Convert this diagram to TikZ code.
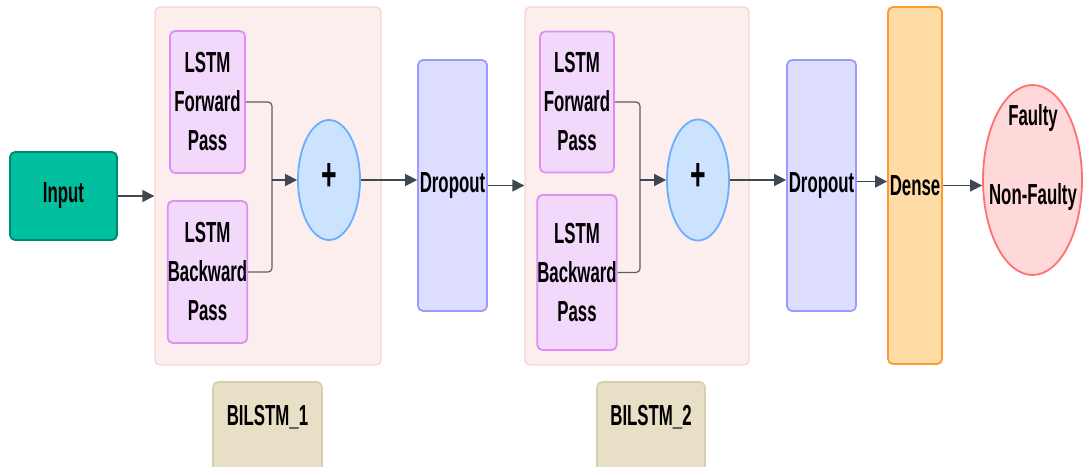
\documentclass[tikz,border=0pt]{standalone}
\usepackage{fontspec}
\setmainfont{Liberation Sans}[FakeStretch=0.58]
\usetikzlibrary{arrows.meta,shapes.geometric}
\definecolor{tealF}{HTML}{00BF9F}
\definecolor{tealD}{HTML}{00896F}
\definecolor{contF}{HTML}{FDEEEE}
\definecolor{contD}{HTML}{F9D3D3}
\definecolor{lstmF}{HTML}{F2D8FA}
\definecolor{lstmD}{HTML}{E28CF5}
\definecolor{plusF}{HTML}{CCE3FF}
\definecolor{plusD}{HTML}{6AAEFF}
\definecolor{dropF}{HTML}{DDDDFF}
\definecolor{dropD}{HTML}{9A9AFF}
\definecolor{denseF}{HTML}{FFDCA6}
\definecolor{denseD}{HTML}{FF9A33}
\definecolor{outF}{HTML}{FFD9D9}
\definecolor{outD}{HTML}{FF7070}
\definecolor{bilF}{HTML}{E8E0C6}
\definecolor{bilD}{HTML}{D8CEAE}
\definecolor{arrowgray}{HTML}{3F4750}
\definecolor{conngray}{HTML}{5A5F66}
\tikzset{
  txt/.style={font=\bfseries\fontsize{29}{39}\selectfont, align=center, text=black},
  box/.style={txt, draw, rounded corners=5pt, line width=1.8pt, inner sep=0pt},
  inbox/.style={box, fill=tealF, draw=tealD},
  contbox/.style={box, fill=contF, draw=contD, line width=1.4pt},
  lstmbox/.style={box, fill=lstmF, draw=lstmD},
  plusnode/.style={ellipse, draw=plusD, fill=plusF, line width=1.8pt, inner sep=0pt,
    font=\bfseries\fontsize{46}{46}\selectfont, text=black},
  dropbox/.style={box, fill=dropF, draw=dropD},
  densebox/.style={box, fill=denseF, draw=denseD},
  outnode/.style={ellipse, draw=outD, fill=outF, line width=1.8pt, inner sep=0pt},
  bilbox/.style={fill=bilF, draw=bilD, line width=1.6pt, rounded corners=5pt},
  arr/.style={-{Triangle[length=12pt,width=12pt]}, line width=1.6pt, draw=arrowgray},
  conn/.style={line width=1.2pt, draw=conngray, rounded corners=4pt},
}
\begin{document}
\begin{tikzpicture}[x=1pt,y=-1pt]
\useasboundingbox (0,0) rectangle (1083,466);
\clip (0,0) rectangle (1083,466);
% containers
\node[contbox, minimum width=226, minimum height=358] (c1) at (268,186) {};
\node[contbox, minimum width=224, minimum height=358] (c2) at (637,186) {};
% input
\node[inbox, minimum width=107, minimum height=88] (in) at (63.5,196) {Input};
% LSTM boxes
\node[lstmbox, minimum width=75, minimum height=142] (f1) at (207.5,102) {LSTM\\Forward\\Pass};
\node[lstmbox, minimum width=75, minimum height=142] (b1) at (207.5,272) {LSTM\\Backward\\Pass};
\node[lstmbox, minimum width=74, minimum height=141] (f2) at (577,102) {LSTM\\Forward\\Pass};
\node[lstmbox, minimum width=74, minimum height=155] (b2) at (577,272.5) {LSTM\\Backward\\Pass};
% plus
\node[plusnode, minimum width=62, minimum height=120] (p1) at (329,180) {\raisebox{5pt}{+}};
\node[plusnode, minimum width=62, minimum height=121] (p2) at (698,180) {\raisebox{5pt}{+}};
% dropout, dense
\node[dropbox, minimum width=69, minimum height=251] (d1) at (452.5,185.5) {Dropout};
\node[dropbox, minimum width=69, minimum height=251] (d2) at (821.5,185.5) {Dropout};
\node[densebox, minimum width=54, minimum height=357] (dn) at (915,185.5) {Dense};
% output
\node[outnode, minimum width=99, minimum height=190] (out) at (1032.5,180) {};
\node[txt, inner sep=0pt] (outt) at (1033,157) {Faulty\\[40pt]Non-Faulty};
% BiLSTM labels
\draw[bilbox] (213,382) rectangle (322,495);
\node[txt, inner sep=0pt] (l1) at (267.5,417) {BILSTM\_1};
\draw[bilbox] (597,382) rectangle (705,495);
\node[txt, inner sep=0pt] (l2) at (651,417) {BILSTM\_2};
% junctions
\coordinate (j1) at (272,180);
\coordinate (j2) at (640,180);
% connectors
\draw[arr] (in.east) -- (in.east -| c1.west);
\draw[conn] (f1.east) -| (j1);
\draw[conn] (b1.east) -| (j1);
\draw[arr] (j1) -- (p1.west);
\draw[arr] (p1.east) -- (p1.east -| d1.west);
\draw[arr] (d1.east) -- (d1.east -| c2.west);
\draw[conn] (f2.east) -| (j2);
\draw[conn] (b2.east) -| (j2);
\draw[arr] (j2) -- (p2.west);
\draw[arr] (p2.east) -- (p2.east -| d2.west);
\draw[arr] ([yshift=4pt]d2.east) -- ([yshift=4pt]d2.east -| dn.west);
\draw[arr] (dn.east) -- (dn.east -| out.west);
\end{tikzpicture}
\end{document}
